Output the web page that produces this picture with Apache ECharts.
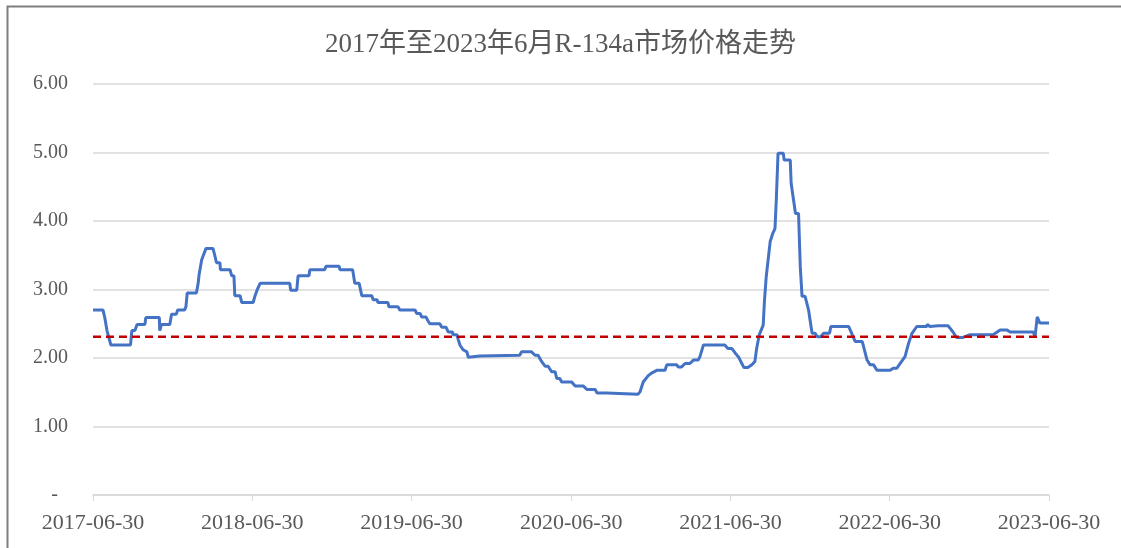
<!DOCTYPE html>
<html>
<head>
<meta charset="utf-8">
<title>R-134a市场价格走势</title>
<script src="https://cdn.jsdelivr.net/npm/echarts@6/dist/echarts.min.js"></script>
<style>
  html, body { margin: 0; padding: 0; background: #fff; }
  #chart { width: 1121px; height: 548px; }
</style>
</head>
<body>
<div id="chart"></div>
<script>
// 价格数据
const dates = [
  '2017-06-30', '2017-07-23', '2017-07-27', '2017-08-01', '2017-08-10', '2017-09-24', '2017-09-27', '2017-10-04',
  '2017-10-09', '2017-10-27', '2017-10-29', '2017-11-29', '2017-11-30', '2017-12-04', '2017-12-23', '2017-12-27',
  '2018-01-07', '2018-01-10', '2018-01-26', '2018-01-29', '2018-02-01', '2018-02-22', '2018-02-26', '2018-02-28',
  '2018-03-06', '2018-03-10', '2018-03-16', '2018-04-01', '2018-04-05', '2018-04-09', '2018-04-17', '2018-04-18',
  '2018-05-10', '2018-05-14', '2018-05-19', '2018-05-21', '2018-06-02', '2018-06-06', '2018-07-02', '2018-07-06',
  '2018-07-11', '2018-07-15', '2018-07-18', '2018-09-24', '2018-09-26', '2018-10-10', '2018-10-13', '2018-11-07',
  '2018-11-09', '2018-12-13', '2018-12-16', '2019-01-15', '2019-01-17', '2019-02-15', '2019-02-20', '2019-03-02',
  '2019-03-08', '2019-03-31', '2019-04-03', '2019-04-12', '2019-04-14', '2019-05-07', '2019-05-09', '2019-05-30',
  '2019-06-03', '2019-07-08', '2019-07-12', '2019-07-20', '2019-07-23', '2019-08-02', '2019-08-07', '2019-08-11',
  '2019-09-03', '2019-09-07', '2019-09-17', '2019-09-22', '2019-10-02', '2019-10-03', '2019-10-12', '2019-10-15',
  '2019-10-19', '2019-10-26', '2019-11-04', '2019-11-07', '2019-11-11', '2019-12-04', '2019-12-08', '2020-03-04',
  '2020-03-08', '2020-03-31', '2020-04-08', '2020-04-15', '2020-04-23', '2020-05-01', '2020-05-08', '2020-05-16',
  '2020-05-24', '2020-05-28', '2020-06-04', '2020-06-08', '2020-07-01', '2020-07-09', '2020-07-28', '2020-08-05',
  '2020-08-24', '2020-08-28', '2020-09-19', '2020-09-22', '2020-11-30', '2020-12-05', '2020-12-12', '2020-12-23',
  '2020-12-31', '2021-01-12', '2021-01-31', '2021-02-04', '2021-02-27', '2021-03-02', '2021-03-10', '2021-03-18',
  '2021-03-29', '2021-04-06', '2021-04-17', '2021-04-21', '2021-04-29', '2021-06-17', '2021-06-24', '2021-07-03',
  '2021-07-11', '2021-07-15', '2021-07-18', '2021-07-22', '2021-07-26', '2021-07-31', '2021-08-09', '2021-08-18',
  '2021-08-25', '2021-08-29', '2021-09-04', '2021-09-13', '2021-09-16', '2021-09-20', '2021-09-24', '2021-09-29',
  '2021-10-05', '2021-10-10', '2021-10-13', '2021-10-17', '2021-10-29', '2021-10-31', '2021-11-14', '2021-11-16',
  '2021-11-20', '2021-11-26', '2021-12-03', '2021-12-07', '2021-12-11', '2021-12-18', '2021-12-26', '2021-12-30',
  '2022-01-03', '2022-01-10', '2022-01-15', '2022-01-23', '2022-01-29', '2022-02-12', '2022-02-15', '2022-03-28',
  '2022-04-05', '2022-04-08', '2022-04-12', '2022-04-28', '2022-04-30', '2022-05-09', '2022-05-16', '2022-05-24',
  '2022-06-01', '2022-07-01', '2022-07-08', '2022-07-16', '2022-07-24', '2022-08-04', '2022-08-12', '2022-08-20',
  '2022-08-31', '2022-09-23', '2022-09-24', '2022-09-30', '2022-10-19', '2022-11-11', '2022-11-22', '2022-11-30',
  '2022-12-15', '2022-12-31', '2023-02-22', '2023-03-10', '2023-03-25', '2023-04-02', '2023-05-25', '2023-05-29',
  '2023-06-03', '2023-06-09', '2023-06-30'
]
const prices = [
  2.70, 2.70, 2.59, 2.40, 2.19, 2.19, 2.40, 2.40,
  2.49, 2.49, 2.59, 2.59, 2.40, 2.49, 2.49, 2.64,
  2.64, 2.70, 2.70, 2.75, 2.95, 2.95, 3.09, 3.21,
  3.43, 3.50, 3.60, 3.60, 3.50, 3.39, 3.39, 3.29,
  3.29, 3.20, 3.20, 2.91, 2.91, 2.81, 2.81, 2.90,
  2.99, 2.99, 3.09, 3.09, 2.99, 2.99, 3.20, 3.20,
  3.29, 3.29, 3.34, 3.34, 3.29, 3.29, 3.09, 3.09,
  2.91, 2.91, 2.85, 2.85, 2.81, 2.81, 2.75, 2.75,
  2.70, 2.70, 2.65, 2.65, 2.60, 2.60, 2.54, 2.50,
  2.50, 2.45, 2.45, 2.38, 2.38, 2.34, 2.34, 2.27,
  2.19, 2.12, 2.09, 2.01, 2.03, 2.03, 2.04, 2.04,
  2.09, 2.09, 2.04, 2.04, 1.95, 1.88, 1.88, 1.80,
  1.80, 1.70, 1.70, 1.65, 1.65, 1.59, 1.59, 1.54,
  1.54, 1.49, 1.49, 1.47, 1.47, 1.51, 1.65, 1.74,
  1.78, 1.82, 1.82, 1.90, 1.90, 1.87, 1.87, 1.92,
  1.92, 1.97, 1.97, 2.02, 2.19, 2.19, 2.14, 2.14,
  2.07, 2.07, 2.02, 2.02, 1.92, 1.86, 1.86, 1.90,
  1.95, 2.14, 2.34, 2.48, 2.85, 3.19, 3.19, 3.70,
  3.82, 3.89, 4.31, 4.99, 4.99, 4.89, 4.89, 4.55,
  4.55, 4.11, 4.11, 3.33, 2.90, 2.90, 2.70, 2.53,
  2.36, 2.36, 2.31, 2.31, 2.36, 2.36, 2.46, 2.46,
  2.34, 2.34, 2.24, 2.24, 2.19, 1.97, 1.90, 1.90,
  1.82, 1.82, 1.85, 1.85, 1.92, 2.02, 2.21, 2.36,
  2.46, 2.46, 2.49, 2.46, 2.47, 2.47, 2.38, 2.30,
  2.30, 2.34, 2.34, 2.41, 2.41, 2.38, 2.38, 2.31,
  2.60, 2.51, 2.51
]
// 均价参考线
const avgPrice = 2.31
const xTickDates = ['2017-06-30', '2018-06-30', '2019-06-30', '2020-06-30', '2021-06-30', '2022-06-30', '2023-06-30']

const toTs = (s) => {
  const p = s.split('-').map(Number)
  return Date.UTC(p[0], p[1] - 1, p[2])
}
const fmtDate = (v) => {
  const d = new Date(v)
  const pad = (n) => (n < 10 ? '0' + n : '' + n)
  return d.getUTCFullYear() + '-' + pad(d.getUTCMonth() + 1) + '-' + pad(d.getUTCDate())
}

const chart = echarts.init(document.getElementById('chart'))
const serif = '"Liberation Serif", "Times New Roman", "Noto Sans CJK SC", serif'
const xTicks = xTickDates.map(toTs)

const option = {
  animation: false,
  backgroundColor: '#fff',
  title: {
    text: '2017年至2023年6月R-134a市场价格走势',
    left: 'center',
    top: 26,
    textStyle: {
      fontFamily: serif,
      fontSize: 27,
      fontWeight: 'normal',
      color: '#595959'
    }
  },
  graphic: [
    {
      type: 'polyline',
      shape: { points: [[7.5, 548], [7.5, 6.5], [1121, 6.5]] },
      style: { stroke: '#7f7f7f', lineWidth: 2, fill: null }
    }
  ],
  grid: {
    left: 93,
    right: 72,
    top: 84,
    bottom: 53
  },
  xAxis: {
    type: 'value',
    min: xTicks[0],
    max: xTicks[xTicks.length - 1],
    axisLine: { show: true, onZero: false, lineStyle: { color: '#d9d9d9', width: 1.5 } },
    axisTick: {
      show: true,
      length: 6,
      lineStyle: { color: '#d9d9d9' },
      customValues: xTicks
    },
    axisLabel: {
      customValues: xTicks,
      formatter: (v) => fmtDate(v),
      fontFamily: serif,
      fontSize: 22,
      color: '#595959',
      margin: 17,
      showMinLabel: true,
      showMaxLabel: true
    },
    splitLine: { show: false }
  },
  yAxis: {
    type: 'value',
    min: 0,
    max: 6,
    interval: 1,
    axisLine: { show: false },
    axisTick: { show: false },
    axisLabel: {
      formatter: (v) => (v === 0 ? '-  ' : v.toFixed(2)),
      fontFamily: serif,
      fontSize: 20,
      color: '#595959',
      margin: 25
    },
    splitLine: { lineStyle: { color: '#d9d9d9', width: 1.5 } }
  },
  series: [
    {
      name: '价格',
      type: 'line',
      data: dates.map((d, i) => [toTs(d), prices[i]]),
      symbol: 'none',
      lineStyle: { color: '#4472c4', width: 3 },
      z: 3
    },
    {
      name: '均价',
      type: 'line',
      data: [[xTicks[0], avgPrice], [xTicks[xTicks.length - 1], avgPrice]],
      symbol: 'none',
      lineStyle: { color: '#c00000', width: 2.5, type: [8, 5] },
      z: 4
    }
  ]
}

chart.setOption(option)
</script>
</body>
</html>
